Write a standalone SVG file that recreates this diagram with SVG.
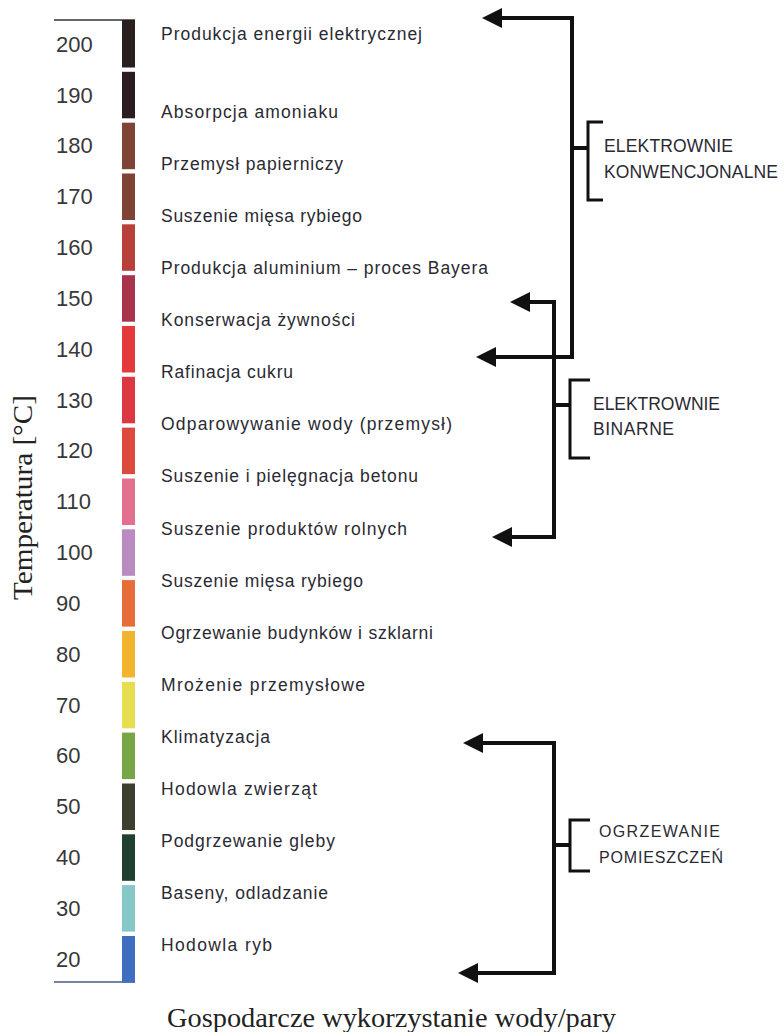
<svg xmlns="http://www.w3.org/2000/svg" width="784" height="1032" viewBox="0 0 784 1032">
<style>
  .num { font-family: "Liberation Sans", Arial, sans-serif; font-size: 22px; fill: #383838; }
  .lbl { font-family: "Liberation Sans", Arial, sans-serif; font-size: 17.5px; fill: #2a2a32; }
  .cap { font-family: "Liberation Sans", Arial, sans-serif; font-size: 17.5px; fill: #2a2a32; }
  .cap2 { font-family: "Liberation Sans", Arial, sans-serif; font-size: 16px; fill: #2a2a32; }
  .ser { font-family: "Liberation Serif", "Times New Roman", serif; font-size: 28px; fill: #222; }
  .conn { fill: none; stroke: #111; stroke-width: 4; stroke-linejoin: miter; }
  .brk { fill: none; stroke: #111; stroke-width: 3; }
  .seg { stroke: none; }
</style>
<defs>
  <marker id="ah" viewBox="0 0 20 20" refX="2" refY="10" markerWidth="20" markerHeight="20" markerUnits="userSpaceOnUse" orient="auto-start-reverse">
    <path d="M0,0 L20,10 L0,20 z" fill="#111"/>
  </marker>
</defs>
<rect width="784" height="1032" fill="#fff"/>

<g id="axis">
  <line x1="54" y1="20" x2="135" y2="20" stroke="#333" stroke-width="1.5"/>
  <line x1="54" y1="982" x2="135" y2="982" stroke="#4a5a80" stroke-width="1.5"/>
  <text class="ser" transform="translate(32,600) rotate(-90)" x="0" y="0" textLength="205" lengthAdjust="spacingAndGlyphs">Temperatura [°C]</text>
</g>

<g id="scale">
  <rect class="seg" x="122" y="20" width="13" height="47.5" fill="#2b1e1f"/>
  <rect class="seg" x="122" y="71.8" width="13" height="46.5" fill="#2a1c1f"/>
  <rect class="seg" x="122" y="122.7" width="13" height="46.5" fill="#7e4436"/>
  <rect class="seg" x="122" y="173.5" width="13" height="46.5" fill="#7f4335"/>
  <rect class="seg" x="122" y="224.3" width="13" height="46.5" fill="#b8403a"/>
  <rect class="seg" x="122" y="275.2" width="13" height="46.5" fill="#a8344c"/>
  <rect class="seg" x="122" y="326.0" width="13" height="46.5" fill="#e53a3c"/>
  <rect class="seg" x="122" y="376.8" width="13" height="46.5" fill="#dd3842"/>
  <rect class="seg" x="122" y="427.6" width="13" height="46.5" fill="#dc4a3e"/>
  <rect class="seg" x="122" y="478.5" width="13" height="46.5" fill="#e4708f"/>
  <rect class="seg" x="122" y="529.3" width="13" height="46.5" fill="#b98bc0"/>
  <rect class="seg" x="122" y="580.1" width="13" height="46.5" fill="#e86c3a"/>
  <rect class="seg" x="122" y="631.0" width="13" height="46.5" fill="#f2b42e"/>
  <rect class="seg" x="122" y="681.8" width="13" height="46.5" fill="#e6de4e"/>
  <rect class="seg" x="122" y="732.6" width="13" height="46.5" fill="#77a647"/>
  <rect class="seg" x="122" y="783.5" width="13" height="46.5" fill="#3f3f2f"/>
  <rect class="seg" x="122" y="834.3" width="13" height="46.5" fill="#1f4030"/>
  <rect class="seg" x="122" y="885.1" width="13" height="46.5" fill="#86c8c8"/>
  <rect class="seg" x="122" y="936.0" width="13" height="46.5" fill="#3d6ebf"/>
</g>

<g id="ticks">
  <text class="num" x="56" y="51.7">200</text>
  <text class="num" x="56" y="102.5">190</text>
  <text class="num" x="56" y="153.4">180</text>
  <text class="num" x="56" y="204.2">170</text>
  <text class="num" x="56" y="255.0">160</text>
  <text class="num" x="56" y="305.9">150</text>
  <text class="num" x="56" y="356.7">140</text>
  <text class="num" x="56" y="407.5">130</text>
  <text class="num" x="56" y="458.3">120</text>
  <text class="num" x="56" y="509.2">110</text>
  <text class="num" x="56" y="560.0">100</text>
  <text class="num" x="56" y="610.8">90</text>
  <text class="num" x="56" y="661.7">80</text>
  <text class="num" x="56" y="712.5">70</text>
  <text class="num" x="56" y="763.3">60</text>
  <text class="num" x="56" y="814.2">50</text>
  <text class="num" x="56" y="865.0">40</text>
  <text class="num" x="56" y="915.8">30</text>
  <text class="num" x="56" y="966.6">20</text>
</g>

<g id="use-1"><text class="lbl" x="161" y="40" textLength="261" lengthAdjust="spacing">Produkcja energii elektrycznej</text></g>
<g id="use-2"><text class="lbl" x="161" y="118" textLength="177" lengthAdjust="spacing">Absorpcja amoniaku</text></g>
<g id="use-3"><text class="lbl" x="161" y="170.1" textLength="182" lengthAdjust="spacing">Przemysł papierniczy</text></g>
<g id="use-4"><text class="lbl" x="161" y="222.1" textLength="201" lengthAdjust="spacing">Suszenie mięsa rybiego</text></g>
<g id="use-5"><text class="lbl" x="161" y="274.2" textLength="327" lengthAdjust="spacing">Produkcja aluminium – proces Bayera</text></g>
<g id="use-6"><text class="lbl" x="161" y="326.2" textLength="194" lengthAdjust="spacing">Konserwacja żywności</text></g>
<g id="use-7"><text class="lbl" x="161" y="378.3" textLength="132" lengthAdjust="spacing">Rafinacja cukru</text></g>
<g id="use-8"><text class="lbl" x="161" y="430.4" textLength="291" lengthAdjust="spacing">Odparowywanie wody (przemysł)</text></g>
<g id="use-9"><text class="lbl" x="161" y="482.4" textLength="257" lengthAdjust="spacing">Suszenie i pielęgnacja betonu</text></g>
<g id="use-10"><text class="lbl" x="161" y="534.5" textLength="246" lengthAdjust="spacing">Suszenie produktów rolnych</text></g>
<g id="use-11"><text class="lbl" x="161" y="586.5" textLength="202" lengthAdjust="spacing">Suszenie mięsa rybiego</text></g>
<g id="use-12"><text class="lbl" x="161" y="638.6" textLength="272" lengthAdjust="spacing">Ogrzewanie budynków i szklarni</text></g>
<g id="use-13"><text class="lbl" x="161" y="690.7" textLength="204" lengthAdjust="spacing">Mrożenie przemysłowe</text></g>
<g id="use-14"><text class="lbl" x="161" y="742.7" textLength="109" lengthAdjust="spacing">Klimatyzacja</text></g>
<g id="use-15"><text class="lbl" x="161" y="794.8" textLength="156" lengthAdjust="spacing">Hodowla zwierząt</text></g>
<g id="use-16"><text class="lbl" x="161" y="846.8" textLength="174" lengthAdjust="spacing">Podgrzewanie gleby</text></g>
<g id="use-17"><text class="lbl" x="161" y="898.9" textLength="167" lengthAdjust="spacing">Baseny, odladzanie</text></g>
<g id="use-18"><text class="lbl" x="161" y="951" textLength="111" lengthAdjust="spacing">Hodowla ryb</text></g>

<g id="group-konwencjonalne">
  <text class="cap" x="604" y="152" textLength="129" lengthAdjust="spacing">ELEKTROWNIE</text>
  <text class="cap" x="604" y="178" textLength="174" lengthAdjust="spacing">KONWENCJONALNE</text>
</g>
<g id="group-binarne">
  <text class="cap" x="593" y="410" textLength="127" lengthAdjust="spacing">ELEKTROWNIE</text>
  <text class="cap" x="593" y="435" textLength="81" lengthAdjust="spacing">BINARNE</text>
</g>
<g id="group-ogrzewanie">
  <text class="cap2" x="599" y="837" textLength="121" lengthAdjust="spacing">OGRZEWANIE</text>
  <text class="cap2" x="599" y="863" textLength="124" lengthAdjust="spacing">POMIESZCZEŃ</text>
</g>

<g id="connectors">
  <path class="conn" d="M500,18 H572 V357 H494" marker-start="url(#ah)" marker-end="url(#ah)"/>
  <path class="conn" d="M572,148 H588"/>
  <path class="brk" d="M603,122 H588 V200 H603"/>

  <path class="conn" d="M528,302 H554 V537 H510" marker-start="url(#ah)" marker-end="url(#ah)"/>
  <path class="conn" d="M554,405 H570"/>
  <path class="brk" d="M590,380 H570 V458 H590"/>

  <path class="conn" d="M481,743 H554 V973 H476" marker-start="url(#ah)" marker-end="url(#ah)"/>
  <path class="conn" d="M554,845 H570"/>
  <path class="brk" d="M590,820 H570 V871 H590"/>
</g>

<g id="title">
  <text class="ser" x="167" y="1027" textLength="449" lengthAdjust="spacingAndGlyphs">Gospodarcze wykorzystanie wody/pary</text>
</g>
</svg>
